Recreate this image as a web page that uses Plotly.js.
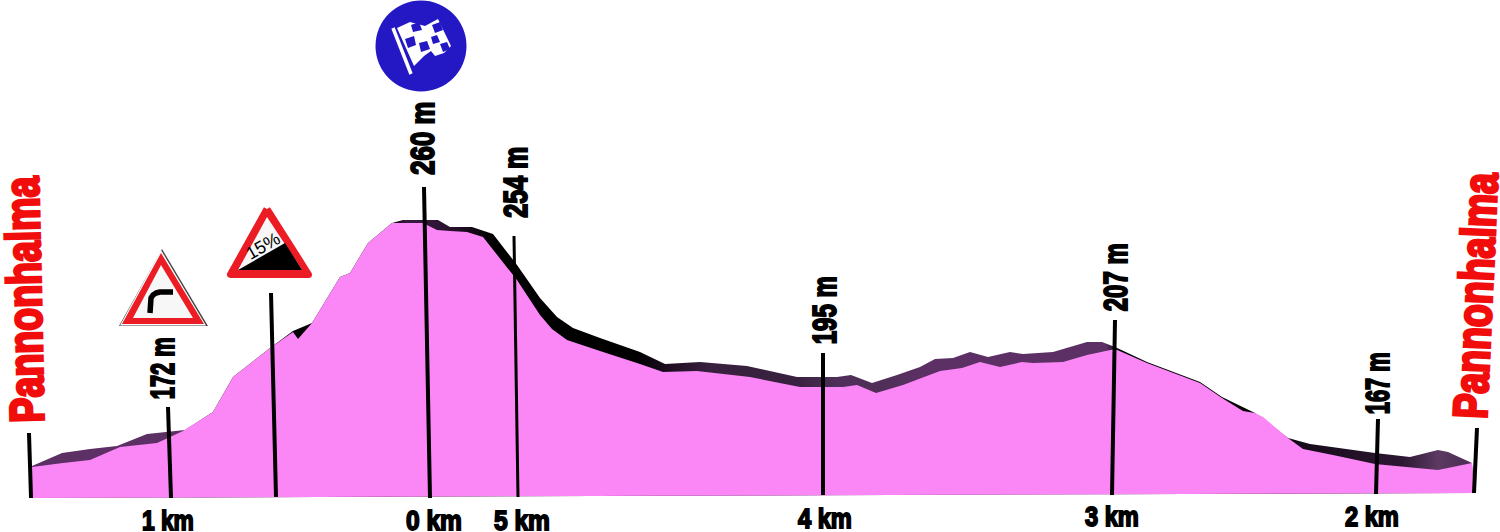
<!DOCTYPE html>
<html>
<head>
<meta charset="utf-8">
<script src="https://cdn.plot.ly/plotly-3.0.1.min.js"></script>
<style>html,body{margin:0;padding:0;background:#fff}#chart{width:1500px;height:532px}</style>
</head>
<body>
<div id="chart"></div>
<script>
// Profile (horizontal position, vertical position on the drawing)
const ridgeX = [32,62,90,117,147,185,213,233,270,293,312,340,350,368,392,403,438,450,472,493,517,540,557,573,600,640,665,700,747,797,837,851,872,897,920,935,953,970,988,1010,1023,1053,1087,1102,1115,1147,1200,1222,1255,1288,1310,1375,1410,1438,1448,1472];
const ridgeY = [466,453,449,446,434,430,412,377,348,331,323,277,273,243,223,220,220,227,227,234,265,298,317,328,338,352,364,362,366,377,377,375,383,375,367,359,358,352,357,352,354,352,342,342,347,362,382,397,413,438,444,453,457,450,452,463];
const surfaceX = [32,63,90,120,157,183,213,233,270,293,298,312,340,350,368,392,423,437,450,467,483,517,540,552,567,600,640,663,697,750,800,843,857,876,903,940,962,980,1000,1022,1033,1063,1087,1115,1147,1200,1222,1243,1255,1263,1288,1303,1333,1375,1438,1472];
const surfaceY = [467,463,460,447,443,431,412,377,348,332,339,323,277,273,243,223,223,230,231,232,237,280,315,329,340,351,364,372,371,377,387,387,385,393,385,371,368,362,367,362,363,362,355,349,363,383,398,411,413,417,438,449,455,464,470,463];
const baseX = [1474,31];
const baseY = [493,498];

// Marker poles
const poleThickX = [29,31,null,168,171,null,271,276,null,424,430,null,823,823,null,1115,1112,null,1378,1376,null,1477,1474];
const poleThickY = [433,498,null,407,498,null,293,497,null,187,498,null,353,495,null,320,495,null,419,494,null,428,493];
const poleThinX = [514,518];
const poleThinY = [236,497];

// Texts
const labels = ["Pannonhalma","Pannonhalma","172 m","260 m","254 m","195 m","207 m","167 m","1 km","0 km","5 km","4 km","3 km","2 km"];
const labelX = [24,1475,162,422,515,824,1115,1377,168,434,522,825,1112,1372];
const labelY = [300,296,368,138,182,310,277,383,520,520,520,518,516,516];

// Signs
const curveEdgeX = [162,119,208,162]; const curveEdgeY = [249,326,326,249];
const curveGapX = [161,120,206,161]; const curveGapY = [250,325.5,325.5,250];
const curveRedX = [161,122,204,161]; const curveRedY = [253,324,324,253];
const curveInnerX = [161,133,193,161]; const curveInnerY = [265,318,318,265];
const curveArrowX = [150,150,151,153,156,160,173]; const curveArrowY = [313,302,298,295,293,292,292];
const gradeRedX = [267,230.5,308.5,267]; const gradeRedY = [209,274.5,274.5,209];
const gradeInnerX = [267,238,302,267]; const gradeInnerY = [217,270,270,217];
const gradeBlackX = [238,285,302,238]; const gradeBlackY = [270,243,270,270];
const flagDiscX = [421]; const flagDiscY = [46];
const flagPoleX = [393,411]; const flagPoleY = [28,74];
const flagClothX = [397,410,425,438,451,444,435,431,424,414,397];
const flagClothY = [28,22,26,19,46,53,56,51,56,66,28];
const flagSquaresX = [411,419,422,413,411,null,405,414,416,408,405,null,419,427,430,421,419,null,432,440,443,435,432,null,431,437,440,433,431,null,440,447,450,443,440];
const flagSquaresY = [25,22,30,32,25,null,39,36,45,48,39,null,43,41,49,52,43,null,25,22,30,33,25,null,37,35,42,44,37,null,44,42,49,52,44];

const labelStyle = [
  {size:48,color:'#f20d0d',angle:-91.3,len:246,stroke:3},
  {size:48,color:'#f20d0d',angle:-87.4,len:246,stroke:3},
  {size:33,color:'#000',angle:-90,len:62,stroke:2},
  {size:33,color:'#000',angle:-90,len:73,stroke:2},
  {size:33,color:'#000',angle:-90,len:71,stroke:2},
  {size:33,color:'#000',angle:-90,len:68,stroke:2},
  {size:33,color:'#000',angle:-90,len:68,stroke:2},
  {size:33,color:'#000',angle:-90,len:62,stroke:2},
  {size:28,color:'#000',angle:0,len:52,stroke:1.8},
  {size:28,color:'#000',angle:0,len:56,stroke:1.8},
  {size:28,color:'#000',angle:0,len:56,stroke:1.8},
  {size:28,color:'#000',angle:0,len:54,stroke:1.8},
  {size:28,color:'#000',angle:0,len:54,stroke:1.8},
  {size:28,color:'#000',angle:0,len:54,stroke:1.8}
];

const purple='#5c3064';
const gradStops = [[0,purple],[0.105,purple],[0.12,'#000'],[0.25,'#000'],[0.26,'#3a1a40'],[0.29,'#2a1230'],[0.32,'#000'],[0.42,'#000'],[0.44,'#1c0c20'],[0.47,'#38203f'],[0.53,'#38203f'],[0.56,'#50305a'],[0.59,'#4f2f58'],[0.62,'#5c3064'],[0.745,'#5c3064'],[0.755,'#000'],[0.87,'#000'],[0.88,'#160a1a'],[0.95,'#2c1732'],[0.975,'#5c3a62'],[1,'#4a2a52']];

const poly=(x,y,color)=>({x,y,mode:'none',fill:'toself',fillcolor:color,hoverinfo:'skip'});
const ln=(x,y,color,width)=>({x,y,mode:'lines',line:{color,width},hoverinfo:'skip',connectgaps:false});

const traces=[
  {x:ridgeX.concat(baseX),y:ridgeY.concat(baseY),mode:'none',fill:'toself',hoverinfo:'skip',
   fillgradient:{type:'horizontal',colorscale:gradStops}},
  poly(surfaceX.concat(baseX),surfaceY.concat(baseY),'#fb86f6'),
  ln(poleThickX,poleThickY,'#000',4),
  ln(poleThinX,poleThinY,'#000',3),
  poly(curveEdgeX,curveEdgeY,'#444'),
  poly(curveGapX,curveGapY,'#fff'),
  poly(curveRedX,curveRedY,'#ec1c24'),
  poly(curveInnerX,curveInnerY,'#f7f7f7'),
  ln(curveArrowX,curveArrowY,'#000',5.5),
  Object.assign(poly(gradeRedX,gradeRedY,'#ec1c24'),{mode:'lines',line:{color:'#ec1c24',width:7}}),
  poly(gradeInnerX,gradeInnerY,'#f7f7f7'),
  poly(gradeBlackX,gradeBlackY,'#000'),
  {x:flagDiscX,y:flagDiscY,mode:'markers',marker:{size:91,color:'#2318c4'},hoverinfo:'skip'},
  ln(flagPoleX,flagPoleY,'#fff',3.5),
  poly(flagClothX,flagClothY,'#fff'),
  poly(flagSquaresX,flagSquaresY,'#2318c4')
];

const annotations=labels.map((t,i)=>({
  text:t,x:labelX[i],y:labelY[i],xref:'x',yref:'y',showarrow:false,xanchor:'center',yanchor:'middle',
  textangle:labelStyle[i].angle,
  font:{family:'"Liberation Sans Narrow","Liberation Sans",sans-serif',size:labelStyle[i].size,color:labelStyle[i].color,weight:700}
}));
annotations.push({text:'15%',x:263,y:246,xref:'x',yref:'y',showarrow:false,textangle:-30,
  font:{family:'"Liberation Sans",sans-serif',size:18,color:'#000'}});

const layout={
  width:1500,height:532,margin:{l:0,r:0,t:0,b:0},paper_bgcolor:'#fff',plot_bgcolor:'#fff',showlegend:false,
  xaxis:{range:[0,1500],visible:false,fixedrange:true},
  yaxis:{range:[532,0],visible:false,fixedrange:true},
  annotations
};

Plotly.newPlot('chart',traces,layout,{displayModeBar:false,staticPlot:true}).then(()=>{
  document.querySelectorAll('#chart .js-line').forEach(el=>{el.style.strokeLinejoin='round';});
  document.querySelectorAll('#chart .annotation-text').forEach((el,i)=>{
    if(i>=labelStyle.length) return;
    el.setAttribute('textLength',labelStyle[i].len);
    el.setAttribute('lengthAdjust','spacingAndGlyphs');
    el.style.stroke=labelStyle[i].color;
    el.style.strokeWidth=labelStyle[i].stroke+'px';
  });
});
</script>
</body>
</html>
